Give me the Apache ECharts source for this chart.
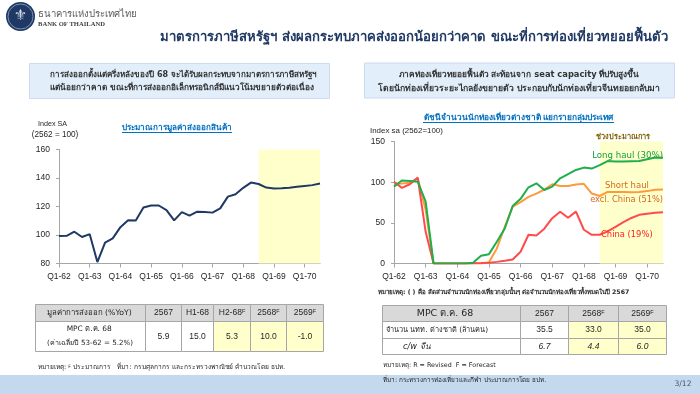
<!DOCTYPE html>
<html><head><meta charset="utf-8">
<script src="https://cdn.jsdelivr.net/npm/echarts@6/dist/echarts.min.js"></script>
<style>html,body{margin:0;padding:0;background:#fff}#c{width:700px;height:394px}</style>
</head><body><div id="c"></div>
<script>
// ---------- DATA ----------
const quarters = ['Q1-62','Q2-62','Q3-62','Q4-62','Q1-63','Q2-63','Q3-63','Q4-63',
  'Q1-64','Q2-64','Q3-64','Q4-64','Q1-65','Q2-65','Q3-65','Q4-65',
  'Q1-66','Q2-66','Q3-66','Q4-66','Q1-67','Q2-67','Q3-67','Q4-67',
  'Q1-68','Q2-68','Q3-68','Q4-68','Q1-69','Q2-69','Q3-69','Q4-69',
  'Q1-70','Q2-70','Q3-70'];
const exportIndex = [99.3, 99.4, 102.3, 98.6, 100.6, 81, 94.6, 97.6,
  105.5, 110.3, 110.1, 119.3, 120.7, 120.7, 117.5, 110.3,
  116.1, 113.6, 116.4, 116.1, 115.7, 118.7, 126.9, 128.6,
  133.1, 136.8, 135.8, 133.3, 132.7, 132.8, 133.2, 133.8,
  134.4, 135.0, 136.2];
const longHaul = [94.5, 102, 101.5, 100.6, 76, 0, 0, 0,
  0, 0, 1, 9.5, 11.5, 26.7, 43, 70.6,
  79.5, 93.7, 98.6, 90.4, 94.5, 104.8, 110, 115,
  117.9, 116.7, 121, 126, 125.3, 125.3, 125.7, 126,
  128.2, 130.2, 130];
const shortHaul = [97.8, 98.4, 99.2, 104.8, 66, 0, 0, 0,
  0, 0, 0, 0, 1.5, 18.5, 45, 70,
  75.5, 82, 86, 91, 97.4, 95.3, 95.3, 97.2,
  98, 86, 83, 88, 88, 87.8, 87.6, 88,
  89, 90.6, 91];
const china = [100.6, 93, 97.4, 105.6, 39, 0, 0, 0,
  0, 0, 0.3, 0.5, 1, 2, 3.3, 5,
  14.5, 35.3, 34.4, 42.8, 55.7, 63.7, 56.2, 63.8,
  41.5, 35.3, 35.3, 39.5, 45, 50.8, 56, 59.8,
  61.3, 62.5, 63];
const forecastStart = 'Q3-68';
const forecastEnd = 'Q3-70';

const exportTableHeader = ['มูลค่าการส่งออก (%YoY)', '2567', 'H1-68', 'H2-68', '2568', '2569'];
const exportTableIsForecast = [false, false, false, true, true, true];
const exportTableRowLabel = ['MPC ต.ค. 68', '(ค่าเฉลี่ยปี 53-62 = 5.2%)'];
const exportTableRow = ['5.9', '15.0', '5.3', '10.0', '-1.0'];

const tourismHeader = ['MPC ต.ค. 68', '2567', '2568', '2569'];
const tourismIsForecast = [false, false, true, true];
const tourismRow1 = ['จำนวน นทท. ต่างชาติ (ล้านคน)', '35.5', '33.0', '35.0'];
const tourismRow2 = ['c/w จีน', '6.7', '4.4', '6.0'];

// ---------- STYLE ----------
const FF = 'Tahoma, "DejaVu Sans", sans-serif';
const FA = '"Liberation Sans", Arial, sans-serif';
const FS = '"Liberation Serif", "DejaVu Serif", serif';
const NAVY = '#1f3864';
const GREEN = '#1fae4b', ORANGE = '#ff9a3c', RED = '#ff4b4b';
const SHADE = '#ffffcc';

const mctx = document.createElement('canvas').getContext('2d');
function fitSize(text, width, o) {
  mctx.font = (o.italic ? 'italic ' : '') + (o.bold ? 'bold ' : '') + '100px ' + (o.family || FF);
  return 100 * width / mctx.measureText(text).width;
}

const chart = echarts.init(document.getElementById('c'), null, {renderer: 'canvas'});
const g = [];
function txt(x, y, text, o) {
  o = o || {};
  g.push({type: 'text', x: x, y: y, z: o.z || 10, silent: true,
    style: {text: text, fill: o.fill || '#262626', fontSize: o.size || 10,
      fontWeight: o.bold ? 'bold' : 'normal', fontStyle: o.italic ? 'italic' : 'normal',
      fontFamily: o.family || FF, align: o.align || 'left', verticalAlign: o.va || 'middle',
      rich: o.rich}});
}
// text fitted to the width measured on the reference
function ftxt(x, y, text, width, o) {
  o = o || {};
  o.size = fitSize(text, width, o);
  txt(x, y, text, o);
}
function rect(x, y, w, h, fill, stroke, z) {
  g.push({type: 'rect', silent: true, z: z || 1, shape: {x: x, y: y, width: w, height: h},
    style: {fill: fill, stroke: stroke || null, lineWidth: stroke ? 1 : 0}});
}
function line(x1, y1, x2, y2, color, w, z) {
  g.push({type: 'line', silent: true, z: z || 5, shape: {x1: x1, y1: y1, x2: x2, y2: y2},
    style: {stroke: color, lineWidth: w || 1}});
}

// header / logo
g.push({type: 'circle', silent: true, z: 5, shape: {cx: 20.5, cy: 16.5, r: 14.5}, style: {fill: NAVY}});
g.push({type: 'circle', silent: true, z: 6, shape: {cx: 20.5, cy: 16.5, r: 12.5}, style: {fill: 'none', stroke: '#8ea9c8', lineWidth: 0.8}});
txt(20.5, 16.5, '⚜', {align: 'center', fill: '#d5dde8', size: 15});
ftxt(38, 15, 'ธนาคารแห่งประเทศไทย', 100, {fill: '#595959'});
ftxt(38, 24, 'BANK OF THAILAND', 67, {fill: '#404040', bold: true, family: FS});
ftxt(414, 38, 'มาตรการภาษีสหรัฐฯ ส่งผลกระทบภาคส่งออกน้อยกว่าคาด ขณะที่การท่องเที่ยวทยอยฟื้นตัว', 508,
  {align: 'center', fill: NAVY, bold: true});

// message boxes
rect(29.5, 63.5, 300, 35, '#e2eefa', '#c9dcf0');
ftxt(183.5, 74.5, 'การส่งออกตั้งแต่ครึ่งหลังของปี 68 จะได้รับผลกระทบจากมาตรการภาษีสหรัฐฯ', 269, {align: 'center', bold: true, fill: '#333'});
ftxt(182, 88, 'แต่น้อยกว่าคาด ขณะที่การส่งออกอิเล็กทรอนิกส์มีแนวโน้มขยายตัวต่อเนื่อง', 263, {align: 'center', bold: true, fill: '#333'});
rect(364.5, 63, 310, 35, '#e2eefa', '#c9dcf0');
ftxt(519, 75, 'ภาคท่องเที่ยวทยอยฟื้นตัว สะท้อนจาก seat capacity ที่ปรับสูงขึ้น', 242, {align: 'center', bold: true, fill: '#333'});
ftxt(519, 88.5, 'โดยนักท่องเที่ยวระยะไกลยังขยายตัว ประกอบกับนักท่องเที่ยวจีนทยอยกลับมา', 282, {align: 'center', bold: true, fill: '#333'});

// left chart texts
ftxt(52.5, 124.5, 'Index SA', 29, {align: 'center', family: FA});
ftxt(55, 134.5, '(2562 = 100)', 46.7, {align: 'center', family: FA});
ftxt(177, 128, 'ประมาณการมูลค่าส่งออกสินค้า', 110, {align: 'center', bold: true, fill: '#0070c0'});
line(122, 132.5, 232, 132.5, '#0070c0', 1);

// right chart texts
ftxt(518.5, 118, 'ดัชนีจำนวนนักท่องเที่ยวต่างชาติ แยกรายกลุ่มประเทศ', 191, {align: 'center', bold: true, fill: '#0070c0'});
line(423, 122.5, 614, 122.5, '#0070c0', 1);
ftxt(370, 131, 'Index sa (2562=100)', 73, {family: FA});
ftxt(623, 137, 'ช่วงประมาณการ', 54, {align: 'center', bold: true, fill: '#7f6000'});
ftxt(663, 155.5, 'Long haul (30%)', 71, {align: 'right', fill: '#12a041'});
ftxt(627, 186, 'Short haul', 44, {align: 'center', fill: '#d2691e'});
ftxt(663, 199.5, 'excl. China (51%)', 73, {align: 'right', fill: '#d2691e'});
ftxt(601, 234.5, 'China (19%)', 51.7, {fill: '#ff2020'});
ftxt(378, 292.5, 'หมายเหตุ: ( ) คือ สัดส่วนจำนวนนักท่องเที่ยวกลุ่มนั้นๆ ต่อจำนวนนักท่องเที่ยวทั้งหมดในปี 2567', 255, {bold: true});

// tables
const supRich = {n: {fontSize: 8.5, fontFamily: FA, fill: '#262626'}, s: {fontSize: 5.5, fontFamily: FA, fill: '#262626', verticalAlign: 'top'}};
function headText(t, forecast) { return forecast ? '{n|' + t + '}{s|F}' : '{n|' + t + '}'; }

const LX = [35.5, 145.5, 181.5, 213.5, 250.5, 286.5, 323.5];
const LY = [304.5, 321.5, 351.5];
for (let i = 0; i < 6; i++) {
  rect(LX[i], LY[0], LX[i + 1] - LX[i], LY[1] - LY[0], '#d9d9d9', '#a6a6a6', 2);
  rect(LX[i], LY[1], LX[i + 1] - LX[i], LY[2] - LY[1], exportTableIsForecast[i] ? SHADE : '#fff', '#a6a6a6', 2);
  if (i > 0) {
    txt((LX[i] + LX[i + 1]) / 2, (LY[0] + LY[1]) / 2, headText(exportTableHeader[i], exportTableIsForecast[i]), {align: 'center', rich: supRich});
    txt((LX[i] + LX[i + 1]) / 2, (LY[1] + LY[2]) / 2, exportTableRow[i - 1], {align: 'center', size: 8.5, family: FA});
  }
}
ftxt(89.2, (LY[0] + LY[1]) / 2, exportTableHeader[0], 85, {align: 'center'});
ftxt(89.2, 329.5, exportTableRowLabel[0], 45, {align: 'center'});
ftxt(90, 343, exportTableRowLabel[1], 86, {align: 'center'});

const RX = [382.5, 520.5, 568.5, 618.5, 666.5];
const RY = [305.5, 321.5, 338.5, 354.5];
for (let i = 0; i < 4; i++) {
  rect(RX[i], RY[0], RX[i + 1] - RX[i], RY[1] - RY[0], '#d9d9d9', '#a6a6a6', 2);
  rect(RX[i], RY[1], RX[i + 1] - RX[i], RY[2] - RY[1], tourismIsForecast[i] ? SHADE : '#fff', '#a6a6a6', 2);
  rect(RX[i], RY[2], RX[i + 1] - RX[i], RY[3] - RY[2], tourismIsForecast[i] ? SHADE : '#fff', '#a6a6a6', 2);
  const cx = (RX[i] + RX[i + 1]) / 2;
  if (i > 0) {
    txt(cx, (RY[0] + RY[1]) / 2, headText(tourismHeader[i], tourismIsForecast[i]), {align: 'center', rich: supRich});
    txt(cx, (RY[1] + RY[2]) / 2, tourismRow1[i], {align: 'center', size: 8.5, family: FA});
    txt(cx, (RY[2] + RY[3]) / 2, tourismRow2[i], {align: 'center', size: 8.5, italic: true, family: FA});
  }
}
ftxt(445, (RY[0] + RY[1]) / 2, tourismHeader[0], 57, {align: 'center'});
ftxt(386, (RY[1] + RY[2]) / 2, tourismRow1[0], 102, {});
ftxt(403, (RY[2] + RY[3]) / 2, tourismRow2[0], 27, {italic: true});

// footnotes and bottom band
rect(0, 375, 700, 19, '#c5d9ee', null, 0);
const fnSize = fitSize('หมายเหตุ: F ประมาณการ   ที่มา: กรมศุลกากร และกระทรวงพาณิชย์ คำนวณโดย ธปท.', 248, {});
txt(38, 367.5, '{n|หมายเหตุ: }{s|F}{n| ประมาณการ   ที่มา: กรมศุลกากร และกระทรวงพาณิชย์ คำนวณโดย ธปท.}',
  {rich: {n: {fontSize: fnSize, fontFamily: FF, fill: '#262626'}, s: {fontSize: fnSize * 0.7, fontFamily: FF, fill: '#262626', verticalAlign: 'top'}}});
ftxt(383, 365, 'หมายเหตุ: R = Revised  F = Forecast', 113, {});
ftxt(383, 380.5, 'ที่มา: กระทรวงการท่องเที่ยวและกีฬา ประมาณการโดย ธปท.', 166, {});
ftxt(683, 384, '3/12', 17, {align: 'center', fill: '#44546a'});

function xAxis(gi) {
  return {type: 'category', gridIndex: gi, data: quarters, boundaryGap: false,
    axisLine: {lineStyle: {color: '#a6a6a6'}},
    axisTick: {show: true, interval: (i) => i % 4 === 0, length: 4, lineStyle: {color: '#a6a6a6'}},
    axisLabel: {interval: (i) => i % 4 === 0, color: '#262626', fontSize: 8.5, fontFamily: FA, margin: 9}};
}
function yAxis(gi, min, max, step) {
  return {type: 'value', gridIndex: gi, min: min, max: max, interval: step,
    splitLine: {show: false},
    axisLine: {show: true, lineStyle: {color: '#a6a6a6'}},
    axisTick: {show: true, length: 3, lineStyle: {color: '#a6a6a6'}},
    axisLabel: {color: '#262626', fontSize: 8.5, fontFamily: FA, margin: 9}};
}
const shade = {silent: true, itemStyle: {color: SHADE}, data: [[{xAxis: forecastStart}, {xAxis: forecastEnd}]]};
function lineSeries(name, xi, data, color, width, withShade) {
  return {type: 'line', name: name, xAxisIndex: xi, yAxisIndex: xi, data: data, symbol: 'none',
    lineStyle: {color: color, width: width}, itemStyle: {color: color}, z: 3, animation: false,
    markArea: withShade ? shade : undefined};
}

chart.setOption({
  animation: false,
  backgroundColor: '#ffffff',
  textStyle: {fontFamily: FF},
  grid: [
    {left: 59, top: 149.5, width: 261, height: 114},
    {left: 394, top: 141.5, width: 269, height: 122}
  ],
  xAxis: [xAxis(0), xAxis(1)],
  yAxis: [yAxis(0, 80, 160, 20), yAxis(1, 0, 150, 50)],
  series: [
    lineSeries('ดัชนีมูลค่าส่งออก', 0, exportIndex, NAVY, 2, true),
    lineSeries('Short haul excl. China', 1, shortHaul, ORANGE, 2, true),
    lineSeries('China', 1, china, RED, 2, false),
    lineSeries('Long haul', 1, longHaul, GREEN, 2, false)
  ],
  graphic: g
});
</script></body></html>
